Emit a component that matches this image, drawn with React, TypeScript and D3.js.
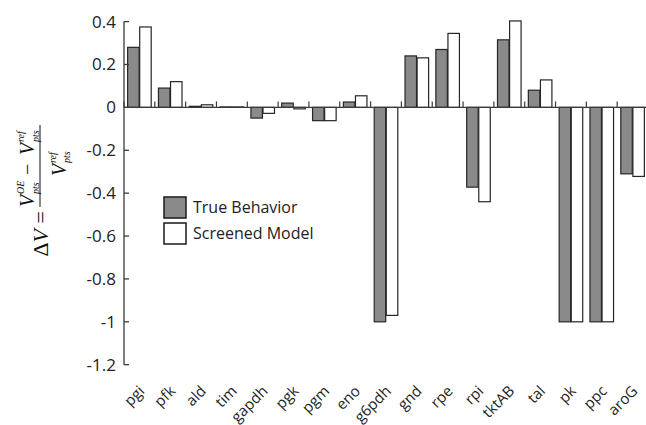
import React from 'react';
import * as d3 from 'd3';

// enzymes on the x axis
const enzymes = ['pgi', 'pfk', 'ald', 'tim', 'gapdh', 'pgk', 'pgm', 'eno', 'g6pdh', 'gnd', 'rpe', 'rpi', 'tktAB', 'tal', 'pk', 'ppc', 'aroG'];
const trueBehavior = [0.28, 0.09, 0.005, 0.002, -0.05, 0.02, -0.062, 0.025, -1, 0.24, 0.27, -0.372, 0.315, 0.08, -1, -1, -0.31];
const screenedModel = [0.375, 0.12, 0.012, 0.002, -0.028, -0.007, -0.062, 0.054, -0.97, 0.231, 0.345, -0.44, 0.403, 0.128, -1, -1, -0.322];
const seriesNames = ['True Behavior', 'Screened Model'];
const yTicks = [0.4, 0.2, 0, -0.2, -0.4, -0.6, -0.8, -1, -1.2];

const W = 646;
const H = 425;
const sans = '"Open Sans", "DejaVu Sans", sans-serif';
const serif = '"Liberation Serif", "DejaVu Serif", serif';
const fills = ['#8a8a8a', '#ffffff'];

export default function App() {
  const x = d3.scaleBand<string>().domain(enzymes).range([124, 648]);
  const inner = d3.scaleBand<number>().domain([0, 1]).range([0, x.bandwidth()]).paddingInner(0.05).paddingOuter(0.3);
  const y = d3.scaleLinear().domain([-1.2, 0.4]).range([364.7, 21.6]);
  const series = [trueBehavior, screenedModel];
  const y0 = y(0);

  return (
    <svg width={W} height={H} style={{ position: 'absolute', left: 0, top: 0, background: '#fff' }}>
      {/* bars */}
      {enzymes.map((e, i) =>
        series.map((s, k) => {
          const v = s[i];
          const top = Math.min(y(v), y0);
          const h = Math.abs(y(v) - y0);
          return (
            <rect key={e + k} x={(x(e) || 0) + (inner(k) || 0)} y={top} width={inner.bandwidth()} height={h}
              fill={fills[k]} stroke="#262626" strokeWidth={1.2} />
          );
        })
      )}

      {/* y axis */}
      <line x1={124} x2={124} y1={y(0.4)} y2={y(-1.2)} stroke="#3a3a3a" strokeWidth={1.3} />
      {yTicks.map(t => (
        <g key={t}>
          <line x1={124} x2={129} y1={y(t)} y2={y(t)} stroke="#3a3a3a" strokeWidth={1.3} />
          <text x={116} y={y(t)} dy="0.35em" textAnchor="end" fontFamily={sans} fontSize={17} fill="#222">{String(t)}</text>
        </g>
      ))}

      {/* x axis at zero */}
      <line x1={124} x2={648} y1={y0} y2={y0} stroke="#3a3a3a" strokeWidth={1.3} />
      {enzymes.map(e => (
        <line key={'t' + e} x1={x(e)} x2={x(e)} y1={y0} y2={y0 - 6} stroke="#3a3a3a" strokeWidth={1.2} />
      ))}
      {enzymes.map(e => (
        <text key={'l' + e} transform={`translate(${(x(e) || 0) + x.bandwidth() / 2 + 6},392) rotate(-45)`}
          textAnchor="end" fontFamily={sans} fontSize={15} fill="#222">{e}</text>
      ))}

      {/* legend */}
      {seriesNames.map((n, k) => (
        <g key={n} transform={`translate(164,${197 + k * 26})`}>
          <rect x={0} y={0} width={22} height={21} fill={fills[k]} stroke="#1a1a1a" strokeWidth={1.5} />
          <text x={29} y={16} fontFamily={sans} fontSize={16} fill="#222">{n}</text>
        </g>
      ))}

      {/* y axis label: ΔV = (V_pts^OE - V_pts^ref) / V_pts^ref */}
      <g transform="translate(40,166) rotate(-90)" fontFamily={serif} fill="#111">
        <line x1={-41} x2={41} y1={0} y2={0} stroke="#111" strokeWidth={1} />
        <text x={-45} y={8} textAnchor="end" fontSize={22}>
          <tspan>Δ</tspan><tspan fontStyle="italic">V</tspan><tspan> =</tspan>
        </text>
        <text x={-41} y={-6} fontSize={20} fontStyle="italic">V</text>
        <text x={-28} y={-16} fontSize={10} fontStyle="italic">OE</text>
        <text x={-28} y={-1} fontSize={10} fontStyle="italic">pts</text>
        <text x={-9} y={-6} fontSize={20}>−</text>
        <text x={11} y={-6} fontSize={20} fontStyle="italic">V</text>
        <text x={24} y={-16} fontSize={10} fontStyle="italic">ref</text>
        <text x={24} y={-1} fontSize={10} fontStyle="italic">pts</text>
        <text x={-10} y={26} fontSize={20} fontStyle="italic">V</text>
        <text x={3} y={16} fontSize={10} fontStyle="italic">ref</text>
        <text x={3} y={30} fontSize={10} fontStyle="italic">pts</text>
      </g>
    </svg>
  );
}
